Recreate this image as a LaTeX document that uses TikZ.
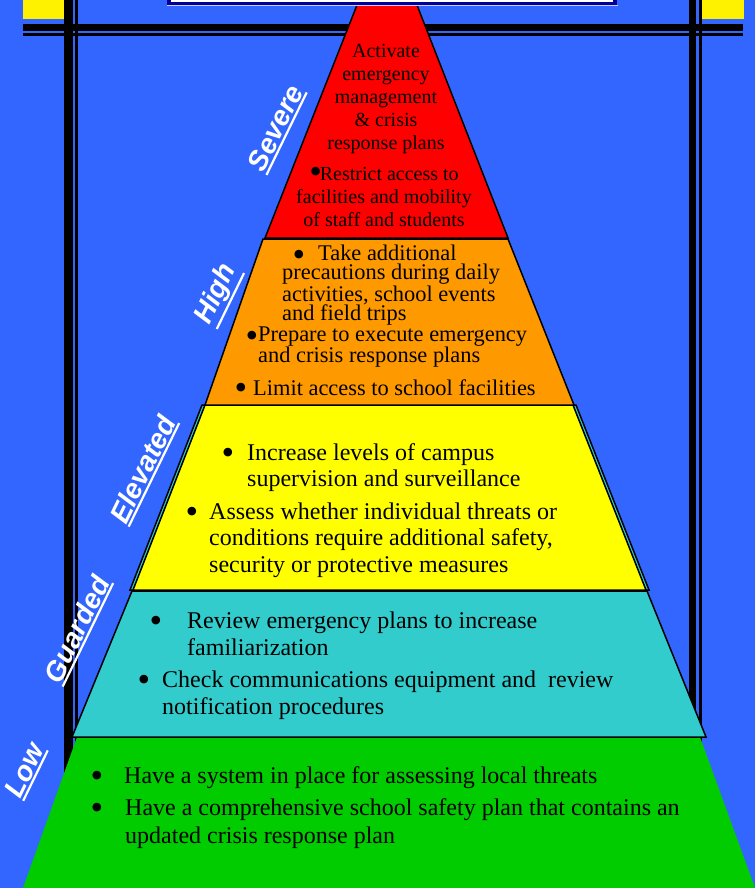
\documentclass[tikz,border=0pt]{standalone}
\usepackage{fontspec}
\setmainfont{Liberation Serif}
\newfontfamily\tagfont{Liberation Sans}
\usetikzlibrary{positioning}

\definecolor{skyblue}{RGB}{51,102,255}
\definecolor{navyline}{RGB}{0,0,153}
\definecolor{lavender}{RGB}{200,200,255}
\definecolor{severe}{RGB}{255,0,0}
\definecolor{high}{RGB}{255,153,0}
\definecolor{elevated}{RGB}{255,255,0}
\definecolor{guarded}{RGB}{51,204,204}
\definecolor{low}{RGB}{0,204,0}

\newcommand\tagline[1]{\vtop{\hbox{#1}\kern1.5pt\hrule height 2.2pt}}
\newcommand\bigdot[1]{\raisebox{-#1}{\fontsize{36}{36}\selectfont\textbullet}}

% multi-line nodes sit on the baseline of their last line
\tikzset{
  level/.style={draw=black, line width=1.5pt},
  item/.style={inner sep=0pt, anchor=base west, align=left},
  mid/.style={inner sep=0pt, anchor=base, align=center},
  dot/.style={inner sep=0pt, anchor=base},
  tag/.style={text=white, inner sep=0pt, rotate=64,
    font=\tagfont\bfseries\itshape\fontsize{28}{28}\selectfont},
}

\begin{document}
\begin{tikzpicture}[x=1pt,y=-1pt]
  % background and frame
  \fill[skyblue] (0,0) rectangle (755,888);
  \useasboundingbox (0,0) rectangle (755,888);
  \fill[yellow] (23,0) rectangle (65,19);
  \fill[yellow] (701,0) rectangle (744,19);
  \fill (23,24) rectangle (743,31);
  \fill (23,33.3) rectangle (743,36);
  \fill (64,0) rectangle (72.5,888);
  \fill (75,0) rectangle (78,888);
  \fill (689,0) rectangle (696,888);
  \fill (699,0) rectangle (701.5,888);

  % levels, bottom up
  \fill[low] (77,737) -- (700,737) -- (755,888) -- (23,888) -- cycle;
  \filldraw[level, fill=guarded] (132,591) -- (647,591) -- (706,737) -- (72,737) -- cycle;
  \filldraw[level, fill=guarded] (202,405) -- (576,405) -- (649,590) -- (130,590) -- cycle;
  \filldraw[level, fill=elevated] (205,405) -- (573,405) -- (646,590) -- (133,590) -- cycle;
  \filldraw[level, fill=high] (263,239) -- (508,239) -- (574,405) -- (205,405) -- cycle;
  \filldraw[level, fill=severe] (359,0) -- (415,0) -- (508,238) -- (265,238) -- cycle;

  % box on top
  \fill[navyline] (167,0) rectangle (617,5);
  \fill[white] (171,0) rectangle (613,1.7);
  \draw[lavender, line width=1.3pt] (167,5.8) -- (618,5.8);

  % severe
  \node[mid, font=\fontsize{20}{23}\selectfont] (sv1) at (386,149)
    {Activate\\emergency\\management\\\& crisis\\response plans};
  \node[mid, font=\fontsize{20}{23}\selectfont] (sv2) at (384,226)
    {\bigdot{3pt}\kern-2pt Restrict access to\\facilities and mobility\\of staff and students};

  % high
  \node[dot] (hb1) at (299,262) {\bigdot{4pt}};
  \node[item, font=\fontsize{22.4}{19.5}\selectfont] (hi1) at (282,320.5)
    {\hspace*{36pt}Take additional\\precautions during daily\\activities, school events\\and field trips};
  \node[dot] (hb2) at (252,343) {\bigdot{4pt}};
  \node[item, font=\fontsize{22.4}{19.5}\selectfont] (hi2) at (258,362.5)
    {Prepare to execute emergency\\and crisis response plans};
  \node[dot] (hb3) at (241,395) {\bigdot{4pt}};
  \node[item, font=\fontsize{22.4}{19.5}\selectfont] (hi3) at (253,395)
    {Limit access to school facilities};

  % elevated
  \node[dot] (eb1) at (228,460) {\bigdot{4pt}};
  \node[item, font=\fontsize{24}{26.5}\selectfont] (el1) at (247,486.5)
    {Increase levels of campus\\supervision and surveillance};
  \node[dot] (eb2) at (192,519) {\bigdot{4pt}};
  \node[item, font=\fontsize{24}{26.5}\selectfont] (el2) at (209,572)
    {Assess whether individual threats or\\conditions require additional safety,\\security or protective measures};

  % guarded
  \node[dot] (gb1) at (156,628) {\bigdot{4pt}};
  \node[item, font=\fontsize{24}{27.5}\selectfont] (gd1) at (187,655.5)
    {Review emergency plans to increase\\familiarization};
  \node[dot] (gb2) at (144,687) {\bigdot{4pt}};
  \node[item, font=\fontsize{24}{27.5}\selectfont] (gd2) at (162,714.5)
    {Check communications equipment and\ \ review\\notification procedures};

  % low
  \node[dot] (lb1) at (97,783) {\bigdot{4pt}};
  \node[item, font=\fontsize{24}{28}\selectfont] (lw1) at (124,783)
    {Have a system in place for assessing local threats};
  \node[dot] (lb2) at (97,815) {\bigdot{4pt}};
  \node[item, font=\fontsize{24}{28}\selectfont] (lw2) at (125,843)
    {Have a comprehensive school safety plan that contains an\\updated crisis response plan};

  % level names
  \node[tag] (tsv) at (277,129) {\tagline{Severe}};
  \node[tag] (thi) at (218,295) {\tagline{High}};
  \node[tag] (tel) at (144,470) {\tagline{Elevated}};
  \node[tag] (tgd) at (78,630) {\tagline{Guarded}};
  \node[tag] (tlw) at (26,771) {\tagline{Low}};
\end{tikzpicture}
\end{document}
